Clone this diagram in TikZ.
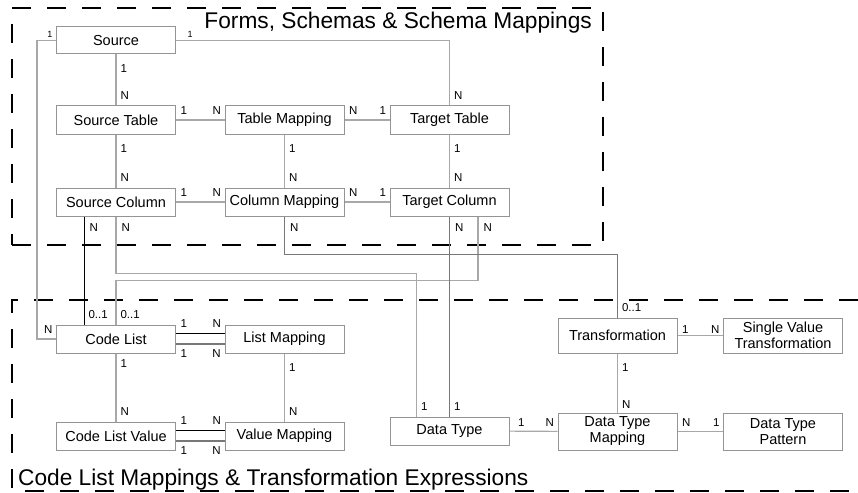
\documentclass[tikz,border=0pt]{standalone}
\usepackage{fontspec}
\setmainfont{Liberation Sans}
\usepackage{xcolor}
\definecolor{boxline}{rgb}{0.58,0.58,0.58}
\definecolor{linkgray}{rgb}{0.66,0.66,0.66}
\definecolor{linkdark}{rgb}{0.47,0.47,0.47}
\usetikzlibrary{calc}

\begin{document}
\begin{tikzpicture}[x=1pt,y=-1pt,
  entity/.style={draw=boxline,line width=1pt,fill=white,minimum width=119pt,minimum height=28pt,inner sep=0.5pt,align=center,font=\fontsize{14.5}{16}\selectfont},
  link/.style={draw=linkgray,line width=1.1pt},
  darklink/.style={draw=linkdark,line width=1.1pt},
  blacklink/.style={draw=black,line width=1pt},
  region/.style={draw=black,line width=1.1pt,dash pattern=on 19pt off 16pt},
  title/.style={inner sep=0pt,font=\fontsize{22.7}{26}\selectfont},
  card/.style={inner sep=0pt,font=\fontsize{11.5}{13}\selectfont},
  small/.style={font=\fontsize{9}{10}\selectfont},
  vs/.style={card,pos=0,anchor=north west,xshift=4pt,yshift=-10pt},
  vsn/.style={card,pos=0,anchor=north west,xshift=5pt,yshift=-7pt},
  ve/.style={card,pos=1,anchor=south west,xshift=4pt,yshift=5pt},
  hs/.style={card,pos=0,anchor=south west,xshift=4pt,yshift=5pt},
  he/.style={card,pos=1,anchor=south east,xshift=-3pt,yshift=5pt},
  hsb/.style={card,pos=0,anchor=north west,xshift=4pt,yshift=-5pt},
  heb/.style={card,pos=1,anchor=north east,xshift=-3pt,yshift=-5pt}]
\useasboundingbox (0,0) rectangle (858,492);

\coordinate (s1) at (116,40.5);
\coordinate (s2) at (116,120);
\coordinate (s3) at (116,202);

\coordinate (m2) at (284.5,120);
\coordinate (m3) at (284.5,202);

\coordinate (t2) at (449.5,120);
\coordinate (t3) at (449.5,202);

\coordinate (c1) at (116,339);
\coordinate (c2) at (116,436);
\coordinate (l1) at (284.5,339);
\coordinate (l2) at (284.5,436);

\coordinate (d1) at (449.5,431);
\coordinate (d2) at (617.5,431.5);
\coordinate (d3) at (783,431.5);
\coordinate (x1) at (617.5,335.5);
\coordinate (x2) at (783,335.5);

  % regions
  \draw[region] (12,245) -- (603,245) -- (603,8) -- (12,8) -- cycle;
  \draw[region] (858,300) -- (12,300) -- (12,491) -- (858,491);
  \node (formtitle) at (592,29) [title,anchor=base east] {Forms, Schemas \& Schema Mappings};
  \node (codetitle) at (18,485) [title,anchor=base west] {Code List Mappings \& Transformation Expressions};

  \node (source) at (s1) [entity,minimum height=27pt] {Source};
  \node (srctab) at (s2) [entity] {Source Table};
  \node (srccol) at (s3) [entity] {Source Column};
  \node (tabmap) at (m2) [entity] {Table Mapping};
  \node (colmap) at (m3) [entity] {Column Mapping};
  \node (tgttab) at (t2) [entity] {Target Table};
  \node (tgtcol) at (t3) [entity] {Target Column};
  \node (codelist) at (c1) [entity] {Code List};
  \node (clvalue) at (c2) [entity] {Code List Value};
  \node (listmap) at (l1) [entity] {List Mapping};
  \node (valmap) at (l2) [entity] {Value Mapping};
  \node (datatype) at (d1) [entity] {Data Type};
  \node (dtmap) at (d2) [entity,minimum height=37pt] {Data Type\\Mapping};
  \node (dtpat) at (d3) [entity,minimum height=37pt] {Data Type\\Pattern};
  \node (trans) at (x1) [entity,minimum height=35pt] {Transformation};
  \node (svt) at (x2) [entity,minimum height=35pt] {Single Value\\Transformation};

  % forms, schemas & schema mappings
  \draw[link] (source.west) -- node[card,small,pos=0,anchor=south east,xshift=-3pt,yshift=2pt]{1} ++(-19,0) |- node[he]{N} (codelist.west);
  \draw[link] (source.east) -| node[card,small,pos=0,anchor=south west,xshift=11pt,yshift=2pt]{1} node[ve]{N} (tgttab.north);
  \draw[link] (source) to[] node[vs]{1} node[ve]{N} (srctab);
  \draw[link] (srctab) to[] node[vs]{1} node[ve]{N} (srccol);
  \draw[link] (tabmap) to[] node[vs]{1} node[ve]{N} (colmap);
  \draw[link] (tgttab) to[] node[vs]{1} node[ve]{N} (tgtcol);
  \draw[link] (srctab) to[] node[hs]{1} node[he]{N} (tabmap);
  \draw[link] (tabmap) to[] node[hs]{N} node[he]{1} (tgttab);
  \draw[link] (srccol) to[] node[hs]{1} node[he]{N} (colmap);
  \draw[link] (colmap) to[] node[hs]{N} node[he]{1} (tgtcol);

  % links between the regions
  \draw[blacklink] ([xshift=-32pt]srccol.south) to[] node[vsn]{N} node[ve]{0..1} ([xshift=-32pt]codelist.north);
  \draw[link] (srccol.south) -- node[vsn]{N} ++(0,57) -| node[ve]{1} ([xshift=-33pt]datatype.north);
  \draw[link] ([xshift=28.5pt]tgtcol.south) -- node[vsn]{N} ++(0,64) -| node[ve]{0..1} (codelist.north);
  \draw[darklink] (tgtcol) to[] node[vsn]{N} node[ve]{1} (datatype);
  \draw[darklink] (colmap.south) -- node[vsn]{N} ++(0,38) -| node[ve]{0..1} (trans.north);

  % code list mappings & transformation expressions
  \draw[blacklink] ([yshift=6pt]codelist.east) to[] node[hs]{1} node[he]{N} ([yshift=6pt]listmap.west);
  \draw[darklink,line width=1.4pt] ([yshift=-5pt]codelist.east) to[] node[hsb]{1} node[heb]{N} ([yshift=-5pt]listmap.west);
  \draw[blacklink] ([yshift=6pt]clvalue.east) to[] node[hs]{1} node[he]{N} ([yshift=6pt]valmap.west);
  \draw[darklink,line width=1.4pt] ([yshift=-5pt]clvalue.east) to[] node[hsb]{1} node[heb]{N} ([yshift=-5pt]valmap.west);
  \draw[link] (codelist) to[] node[vs,yshift=4pt]{1} node[ve]{N} (clvalue);
  \draw[link] (listmap) to[] node[vs]{1} node[ve]{N} (valmap);
  \draw[link] (datatype) to[] node[hs,xshift=4pt,yshift=-1pt]{1} node[he,yshift=-1pt]{N} (dtmap);
  \draw[link] (trans) to[] node[vs]{1} node[ve,yshift=-2pt]{N} (dtmap);
  \draw[link] (trans) to[] node[hs,yshift=-4pt]{1} node[he,yshift=-4pt]{N} (svt);
  \draw[link] (dtmap) to[] node[hs,yshift=-1pt]{N} node[he,yshift=-1pt]{1} (dtpat);
\end{tikzpicture}
\end{document}
